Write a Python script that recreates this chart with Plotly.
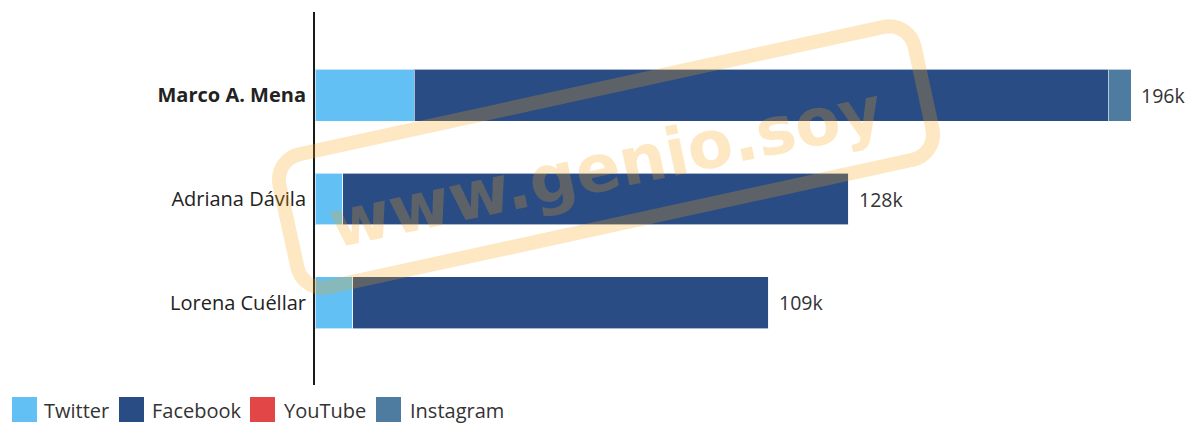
import math
import plotly.graph_objects as go

# ---- data ----
candidates = ["Marco A. Mena", "Adriana Dávila", "Lorena Cuéllar"]
tick_labels = ["<b>Marco A. Mena</b>", "Adriana Dávila", "Lorena Cuéllar"]
series_names = ["Twitter", "Facebook", "YouTube", "Instagram"]
twitter = [23.8, 6.7, 9.1]
facebook = [166.7, 121.5, 99.9]
youtube = [0.0, 0.0, 0.0]
instagram = [5.5, 0.0, 0.0]
series_values = [twitter, facebook, youtube, instagram]
series_colors = ["#62C0F4", "#294C84", "#E24646", "#4E7BA0"]

OFF = 8  # page body margin offset
W, H = 1200 - OFF, 424 - OFF
PLOT_L, PLOT_R, PLOT_T, PLOT_B = 315, 1180, 12, 385  # page pixel positions
ML, MR, MT, MB = PLOT_L - OFF, W - (PLOT_R - OFF), PLOT_T - OFF, H - (PLOT_B - OFF)
PW, PH = PLOT_R - PLOT_L, PLOT_B - PLOT_T
FONT = "Open Sans"


def px(x):
    return (x - PLOT_L) / PW


def py(y):
    return (PLOT_B - y) / PH


fig = go.Figure()
for name, vals, col in zip(series_names, series_values, series_colors):
    fig.add_trace(go.Bar(
        y=candidates, x=vals, name=name, orientation="h",
        marker=dict(color=col, line=dict(color="rgba(255,255,255,0.6)", width=1)),
        showlegend=False, hoverinfo="x+name",
    ))

totals = [sum(v[i] for v in series_values) for i in range(len(candidates))]
annotations = []
for cand, tot in zip(candidates, totals):
    annotations.append(dict(
        x=tot, y=cand, xref="x", yref="y", text=f"{round(tot)}k",
        showarrow=False, xanchor="left", yanchor="middle", xshift=8,
        font=dict(family=FONT, size=19.5, color="#333333"),
    ))

# ---- custom legend (below plot) ----
shapes = []
leg_sq_x = [12, 119, 250, 376]
leg_txt_x = [42, 150, 282, 408]
for name, col, sx, tx in zip(series_names, series_colors, leg_sq_x, leg_txt_x):
    shapes.append(dict(type="rect", xref="paper", yref="paper",
                       x0=px(sx), x1=px(sx + 25), y0=py(422), y1=py(397),
                       fillcolor=col, line=dict(width=0), layer="above"))
    annotations.append(dict(
        x=px(tx), y=py(410), xref="paper", yref="paper", text=name,
        showarrow=False, xanchor="left", yanchor="middle",
        font=dict(family=FONT, size=20, color="#333333"),
    ))

# ---- watermark ----
wm_color = "rgba(249,165,17,0.25)"
cx, cy, rw, rh, rad, ang = 606, 157, 650, 136, 26, math.radians(-12.3)
pts = []
hw, hh = rw / 2 - rad, rh / 2 - rad
corners = [(hw, -hh, -90), (hw, hh, 0), (-hw, hh, 90), (-hw, -hh, 180)]
for ccx, ccy, start in corners:
    for k in range(10):
        a = math.radians(start + k * 10)
        pts.append((ccx + rad * math.cos(a), ccy + rad * math.sin(a)))
path_pts = []
for lx, ly in pts:
    sx = cx + lx * math.cos(ang) - ly * math.sin(ang)
    sy = cy + lx * math.sin(ang) + ly * math.cos(ang)
    path_pts.append(f"{px(sx):.5f},{py(sy):.5f}")
path = "M " + " L ".join(path_pts) + " Z"
shapes.append(dict(type="path", xref="paper", yref="paper", path=path,
                   line=dict(color=wm_color, width=14), fillcolor="rgba(0,0,0,0)",
                   layer="above"))
annotations.append(dict(
    x=px(605), y=py(168), xref="paper", yref="paper", text="<b>www.genio.soy</b>",
    showarrow=False, textangle=-12, xanchor="center", yanchor="middle",
    font=dict(family="DejaVu Sans", size=66, color=wm_color),
))

fig.update_layout(
    barmode="stack", bargap=0.5,
    width=W, height=H,
    margin=dict(l=ML, r=MR, t=MT, b=MB, pad=0),
    paper_bgcolor="white", plot_bgcolor="white",
    font=dict(family=FONT, size=20, color="#333333"),
    xaxis=dict(range=[0, PW / (816 / 196)], visible=False, fixedrange=True),
    yaxis=dict(
        categoryorder="array", categoryarray=candidates,
        tickmode="array", tickvals=candidates, ticktext=tick_labels,
        range=[2.79, -0.8], showline=True, linecolor="#1a1a1a", linewidth=2,
        showgrid=False, zeroline=False, ticks="", ticklabelstandoff=3,
        tickfont=dict(family=FONT, size=20, color="#222222"),
    ),
    shapes=shapes, annotations=annotations,
)

fig.write_html("out.html")
